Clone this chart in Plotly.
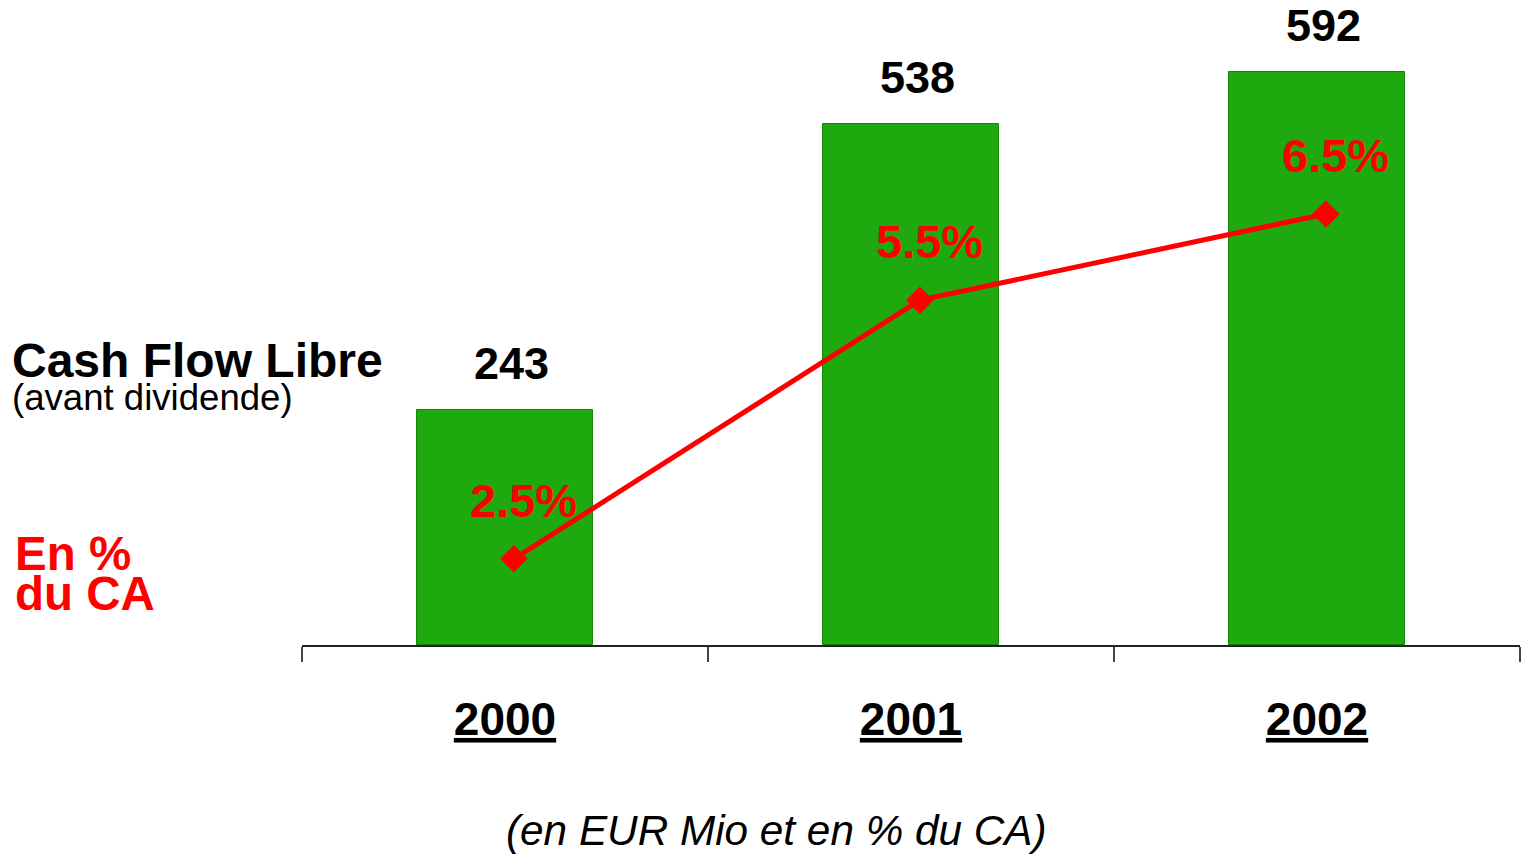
import plotly.graph_objects as go

# Données (EUR Mio et % du CA)
annees = ["2000", "2001", "2002"]
cash_flow = [243, 538, 592]
pct_ca = [2.5, 5.5, 6.5]
pct_labels = ["2.5%", "5.5%", "6.5%"]

VERT = "#1EAA0E"
ROUGE = "#FF0000"
POLICE = "Liberation Sans, Arial, sans-serif"

W, H = 1523, 854
L, R, T, B = 302, 3, 20, 209


def px_x(px):
    return (px - L) / (W - L - R)


def px_y(py):
    return (H - B - py) / (H - T - B)


idx = list(range(len(annees)))

fig = go.Figure()

fig.add_trace(go.Bar(
    x=annees,
    y=cash_flow,
    width=0.435,
    marker=dict(color=VERT, line=dict(color="#12880A", width=1)),
    hoverinfo="skip",
    showlegend=False,
))

fig.add_trace(go.Scatter(
    x=annees,
    y=pct_ca,
    xaxis="x2",
    yaxis="y2",
    mode="lines+markers",
    line=dict(color=ROUGE, width=5),
    marker=dict(symbol="diamond", size=19, color=ROUGE, line=dict(color=ROUGE, width=2)),
    hoverinfo="skip",
    showlegend=False,
))

# étiquettes des valeurs (index de catégorie)
for i, v in zip(idx, cash_flow):
    fig.add_annotation(
        x=i, y=v, xref="x", yref="y",
        text=f"<b>{v}</b>", showarrow=False,
        yanchor="bottom", yshift=19, xshift=6,
        font=dict(family=POLICE, size=45, color="black"),
    )

for i, v, t in zip(idx, pct_ca, pct_labels):
    fig.add_annotation(
        x=i, y=v, xref="x2", yref="y2",
        text=f"<b>{t}</b>", showarrow=False,
        yanchor="bottom", yshift=30, xshift=10,
        font=dict(family=POLICE, size=47, color=ROUGE),
    )

# textes à gauche
fig.add_annotation(
    x=px_x(10), y=px_y(360), xref="paper", yref="paper",
    text="<b>Cash Flow Libre</b>", showarrow=False,
    xanchor="left", yanchor="middle",
    font=dict(family=POLICE, size=48, color="black"),
)
fig.add_annotation(
    x=px_x(10), y=px_y(397), xref="paper", yref="paper",
    text="(avant dividende)", showarrow=False,
    xanchor="left", yanchor="middle",
    font=dict(family=POLICE, size=36.6, color="black"),
)
fig.add_annotation(
    x=px_x(13), y=px_y(553), xref="paper", yref="paper",
    text="<b>En %</b>", showarrow=False,
    xanchor="left", yanchor="middle",
    font=dict(family=POLICE, size=47.5, color=ROUGE),
)
fig.add_annotation(
    x=px_x(13), y=px_y(593), xref="paper", yref="paper",
    text="<b>du CA</b>", showarrow=False,
    xanchor="left", yanchor="middle",
    font=dict(family=POLICE, size=47.5, color=ROUGE),
)
fig.add_annotation(
    x=px_x(776), y=px_y(830), xref="paper", yref="paper",
    text="<i>(en EUR Mio et en % du CA)</i>", showarrow=False,
    xanchor="center", yanchor="middle",
    font=dict(family=POLICE, size=42.3, color="black"),
)

fig.update_layout(
    width=W, height=H,
    margin=dict(l=L, r=R, t=T, b=B),
    plot_bgcolor="white",
    paper_bgcolor="white",
    bargap=0,
    xaxis=dict(
        type="category",
        range=[-0.5, 2.5],
        tickvals=annees,
        ticktext=[f"<b><u>{a}</u></b>" for a in annees],
        tickfont=dict(family=POLICE, size=46, color="black"),
        showgrid=False, zeroline=False,
        showline=True, linecolor="#222", linewidth=1.5,
        ticks="outside", ticklen=15, tickcolor="#444", tickwidth=1.5,
        tickson="boundaries",
        ticklabelstandoff=33,
        fixedrange=True,
    ),
    xaxis2=dict(
        type="category",
        range=[-0.522, 2.478],
        overlaying="x",
        visible=False,
    ),
    yaxis=dict(
        range=[0, 645.7],
        visible=False,
    ),
    yaxis2=dict(
        range=[1.50, 8.75],
        overlaying="y",
        visible=False,
    ),
)

# pas de marge de page autour du graphique
fig.write_html(
    "out.html",
    config={"displayModeBar": False},
    post_script="document.body.style.margin='0';document.body.style.overflow='hidden';",
)
